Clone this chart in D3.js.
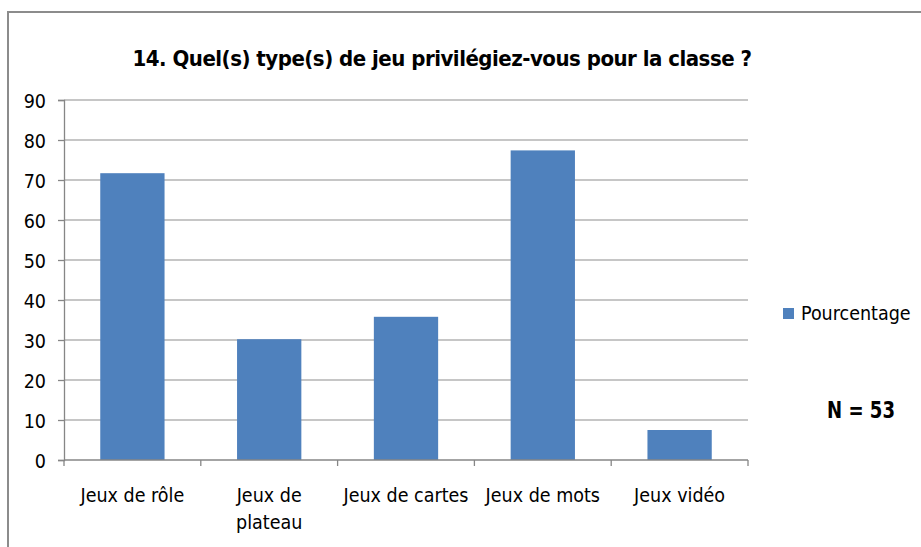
<!DOCTYPE html>
<html><head><meta charset="utf-8">
<script src="https://cdn.jsdelivr.net/npm/d3@7"></script>
<style>
body{margin:0;background:#fff;}
text{font-family:"DejaVu Sans Condensed","Liberation Sans Narrow","Liberation Sans",sans-serif;fill:#000;}
</style></head><body>
<script>
const categories = ["Jeux de rôle", "Jeux de plateau", "Jeux de cartes", "Jeux de mots", "Jeux vidéo"];
const values = [71.7, 30.2, 35.8, 77.4, 7.5];
const yTicks = [0, 10, 20, 30, 40, 50, 60, 70, 80, 90];
const seriesName = "Pourcentage";
const title = "14. Quel(s) type(s) de jeu privilégiez-vous pour la classe ?";
const note = "N = 53";

const W = 921, H = 547;
const svg = d3.select("body").append("svg").attr("width", W).attr("height", H);

// outer border
svg.append("path").attr("d", `M8,${H} L8,12 L${W},12`).attr("fill","none").attr("stroke","#8c8c8c").attr("stroke-width",2);

const m = {left:64, right:748, top:100, bottom:460};
const x = d3.scaleBand().domain(categories).range([m.left, m.right]).paddingInner(0.53).paddingOuter(0.265);
const y = d3.scaleLinear().domain([0, 90]).range([m.bottom, m.top]);

// gridlines
svg.append("g").selectAll("line").data(yTicks.filter(d=>d>0)).join("line")
  .attr("x1", m.left).attr("x2", m.right).attr("y1", d=>y(d)).attr("y2", d=>y(d))
  .attr("stroke", "#b3b3b3").attr("stroke-width", 1.3);

// bars
svg.append("g").selectAll("rect").data(values).join("rect")
  .attr("x", (d,i)=>x(categories[i])).attr("width", x.bandwidth())
  .attr("y", d=>y(d)).attr("height", d=>y(0)-y(d)).attr("fill", "#4f81bd");

// y axis
const yAxis = d3.axisLeft(y).tickValues(yTicks).tickSize(6).tickPadding(12).tickFormat(d3.format("d"));
const gy = svg.append("g").attr("transform", `translate(${m.left},0)`).call(yAxis);
gy.select(".domain").attr("stroke", "#868686").attr("stroke-width", 1.3);
gy.selectAll(".tick line").attr("stroke", "#868686").attr("stroke-width", 1.3);
gy.selectAll(".tick text").attr("font-size", 19.5).attr("fill", "#000").attr("dy", "0.36em")
  .style("font-family", '"DejaVu Sans Condensed",sans-serif');

// x axis
const xPos = d3.scalePoint().domain(d3.range(categories.length + 1)).range([m.left, m.right]);
const gx = svg.append("g");
gx.append("line").attr("x1", m.left).attr("x2", m.right).attr("y1", m.bottom).attr("y2", m.bottom)
  .attr("stroke", "#868686").attr("stroke-width", 1.3);
gx.selectAll("line.t").data(d3.range(categories.length + 1)).join("line").attr("class","t")
  .attr("x1", d=>xPos(d)).attr("x2", d=>xPos(d)).attr("y1", m.bottom).attr("y2", m.bottom+6)
  .attr("stroke", "#868686").attr("stroke-width", 1.3);

const xLabelLines = [["Jeux de rôle"], ["Jeux de", "plateau"], ["Jeux de cartes"], ["Jeux de mots"], ["Jeux vidéo"]];
gx.selectAll("text").data(categories).join("text")
  .attr("text-anchor", "middle").attr("font-size", 19.5)
  .attr("x", d=>x(d)+x.bandwidth()/2)
  .each(function(d,i){
    const t = d3.select(this);
    xLabelLines[i].forEach((ln,j)=>{
      t.append("tspan").attr("x", x(d)+x.bandwidth()/2).attr("y", 502 + j*27).text(ln);
    });
  });

// title
svg.append("text").attr("x", 442).attr("y", 66).attr("text-anchor","middle")
  .attr("font-size", 22).attr("font-weight","bold").attr("letter-spacing", -0.5).text(title);

// legend
svg.append("rect").attr("x", 783).attr("y", 308).attr("width", 11).attr("height", 11).attr("fill", "#4f81bd");
svg.append("text").attr("x", 801).attr("y", 320).attr("font-size", 19.5).text(seriesName);

// N note
svg.append("text").attr("x", 827).attr("y", 418)
  .attr("font-size", 23).attr("font-weight","bold")
  .attr("textLength", 68).attr("lengthAdjust", "spacingAndGlyphs").text(note);
</script>
</body></html>
